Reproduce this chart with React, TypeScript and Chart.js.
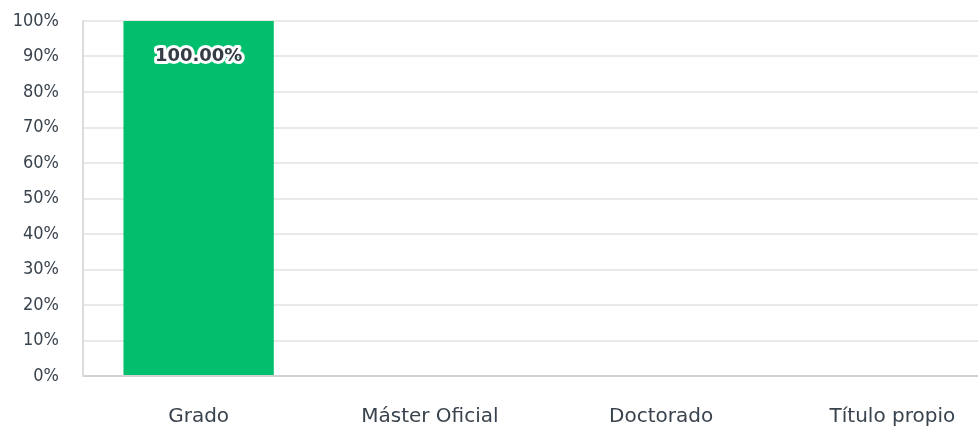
import React, { useEffect, useRef } from "react";
import { Chart, registerables } from "chart.js";

Chart.register(...registerables);

const categories = ["Grado", "Máster Oficial", "Doctorado", "Título propio"];
const values = [100, 0, 0, 0];
const yTicks = [0, 10, 20, 30, 40, 50, 60, 70, 80, 90, 100];

const FONT = "'DejaVu Sans', sans-serif";
const FONT_COND = "'DejaVu Sans Condensed', 'DejaVu Sans', sans-serif";
const TEXT = "#39434d";

const valueLabelPlugin = {
  id: "valueLabels",
  afterDatasetsDraw(chart: any) {
    const ctx = chart.ctx;
    const meta = chart.getDatasetMeta(0);
    ctx.save();
    ctx.font = `bold 18px ${FONT}`;
    ctx.textAlign = "center";
    ctx.textBaseline = "middle";
    meta.data.forEach((bar: any, i: number) => {
      const v = values[i];
      if (!v) return;
      const txt = v.toFixed(2) + "%";
      const y = bar.y + 35;
      ctx.lineWidth = 6;
      ctx.lineJoin = "round";
      ctx.strokeStyle = "#ffffff";
      ctx.strokeText(txt, bar.x, y);
      ctx.fillStyle = "#363c45";
      ctx.fillText(txt, bar.x, y);
    });
    ctx.restore();
  },
};

export default function App() {
  const ref = useRef<HTMLCanvasElement | null>(null);
  useEffect(() => {
    if (!ref.current) return;
    const chart = new Chart(ref.current, {
      type: "bar",
      data: {
        labels: categories,
        datasets: [
          {
            data: values,
            backgroundColor: "#02bf6e",
            barPercentage: 0.65,
            categoryPercentage: 1,
          },
        ],
      },
      options: {
        animation: false,
        responsive: false,
        maintainAspectRatio: false,
        layout: { padding: { top: 21, left: 0, right: 0, bottom: 0 } },
        plugins: { legend: { display: false }, tooltip: { enabled: false } },
        scales: {
          x: {
            grid: { display: false, drawTicks: false },
            border: { display: true, color: "#d2d2d2", width: 2 },
            ticks: {
              color: TEXT,
              font: { family: FONT, size: 20 },
              padding: 29,
              maxRotation: 0,
            },
            afterFit: (s: any) => {
              s.height = 50;
              s.paddingLeft = 0;
              s.paddingRight = 0;
            },
          },
          y: {
            min: 0,
            max: 100,
            afterBuildTicks: (s: any) => {
              s.ticks = yTicks.map((v) => ({ value: v }));
            },
            grid: { color: "#e9e9e9", lineWidth: 2, drawTicks: false },
            border: { display: true, color: "#dcdcdc", width: 2 },
            ticks: {
              color: TEXT,
              font: { family: FONT_COND, size: 18 },
              padding: 24,
              callback: (v: any) => v + "%",
            },
            afterFit: (s: any) => {
              s.width = 83;
              s.paddingTop = 0;
              s.paddingBottom = 0;
            },
          },
        },
      },
      plugins: [valueLabelPlugin],
    });
    return () => chart.destroy();
  }, []);
  return (
    <div
      style={{
        position: "fixed",
        left: 0,
        top: 0,
        width: 978,
        height: 426,
        overflow: "hidden",
        background: "#fff",
      }}
    >
      <canvas ref={ref} width={1008} height={426} style={{ display: "block" }} />
    </div>
  );
}
